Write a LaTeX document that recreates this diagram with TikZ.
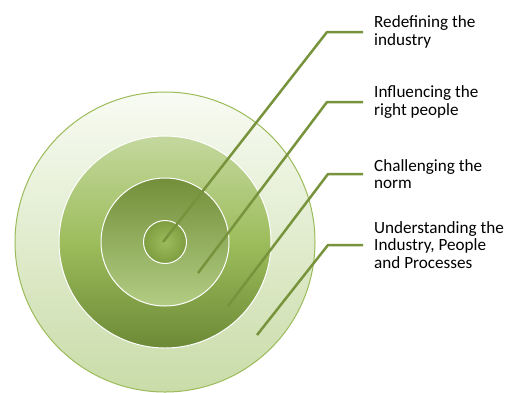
\documentclass[tikz,border=0pt]{standalone}
\usepackage{fontspec}
\setmainfont{Carlito}
\usetikzlibrary{calc,positioning}
\definecolor{leaf}{HTML}{77933C}
\definecolor{rim}{HTML}{9BBB59}
\definecolor{paleA}{HTML}{F8FBF3}
\definecolor{paleB}{HTML}{C9DCA8}
\definecolor{midA}{HTML}{C4D89E}
\definecolor{midB}{HTML}{9DBD5C}
\definecolor{midC}{HTML}{6C8A36}
\definecolor{deepA}{HTML}{738F3A}
\definecolor{deepB}{HTML}{B2CD83}
\definecolor{coreA}{HTML}{9CBC5C}
\definecolor{coreB}{HTML}{7D9D40}
\tikzset{
  ring/.style={circle, inner sep=0pt},
  leader/.style={draw=leaf, line width=2.5bp, line join=round},
  lbl/.style={anchor=west, align=left, inner xsep=11bp, inner ysep=0pt,
    font=\fontsize{17.2}{17.5}\selectfont}
}
\begin{document}
\begin{tikzpicture}[x=1bp,y=-1bp]
      \useasboundingbox (0,0) rectangle (518,392);
      % concentric circles
      \node[ring, minimum size=300bp, draw=rim, line width=1bp,
        top color=paleA, bottom color=paleB] (outer) at (165,242) {};
      \node[ring, minimum size=212bp, draw=white, line width=1bp,
        top color=midA, bottom color=midC, middle color=midB] (second) at (165,242) {};
      \node[ring, minimum size=128bp, draw=white, line width=1bp,
        top color=deepA, bottom color=deepB] (third) at (165,242) {};
      \node[ring, minimum size=43bp, draw=white, line width=1bp,
        inner color=coreA, outer color=coreB] (core) at (165,242) {};
      % labels
      \node[lbl] (redef) at (363,32) {Redefining the\\industry};
      \node[lbl] (influ) at (363,102) {Influencing the\\right people};
      \node[lbl] (chall) at (363,174) {Challenging the\\norm};
      \node[lbl] (under) at (363,245) {Understanding the\\Industry, People\\and Processes};
      % start and elbow points of the leader lines
      \coordinate (s1) at (163,242);
      \coordinate (s2) at (198,273);
      \coordinate (s3) at (228,306);
      \coordinate (s4) at (257,335);
      \coordinate (e1) at (327,32);
      \coordinate (e2) at (327,102);
      \coordinate (e3) at (328,174);
      \coordinate (e4) at (328,245);
      % leader lines
      \draw[leader] (s1) -- (e1) -- (redef.west);
      \draw[leader] (s2) -- (e2) -- (influ.west);
      \draw[leader] (s3) -- (e3) -- (chall.west);
      \draw[leader] (s4) -- (e4) -- (under.west);
    \end{tikzpicture}
\end{document}
